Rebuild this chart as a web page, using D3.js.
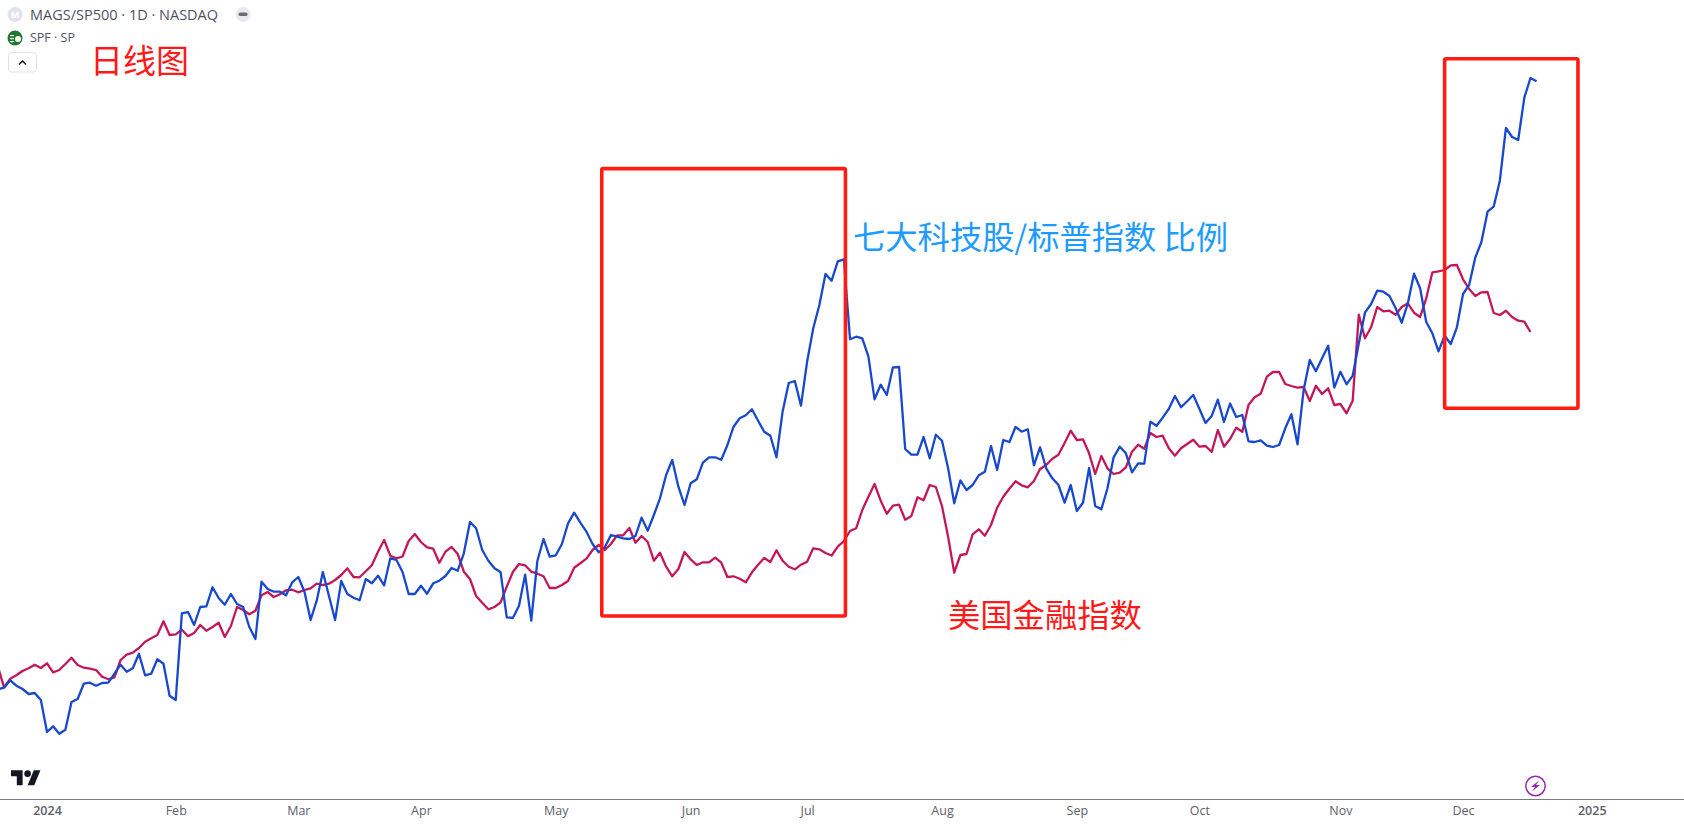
<!DOCTYPE html>
<html><head><meta charset="utf-8">
<style>html,body{margin:0;padding:0;background:#fff;overflow:hidden}svg{display:block}</style>
<script src="https://cdn.jsdelivr.net/npm/d3@7/dist/d3.min.js"></script>
</head><body><svg id="c" width="1684" height="826"></svg>
<script>
const firstBar = -8;
const tickBars = [0,21,41,61,83,105,124,146,168,188,211,231,252];
const tickLabels = ["2024","Feb","Mar","Apr","May","Jun","Jul","Aug","Sep","Oct","Nov","Dec","2025"];
const magsRatio = [110.7,112.3,119.7,114.3,111,106,107,100,68,73.7,66.3,70.3,98,101,116.3,117.3,114.3,117,117.3,126.3,135.3,128.3,131.7,146.3,124.7,126.3,140.7,136.3,104.3,100,
186.7,188,175,193,193.7,212.7,202,195.3,206,196,193,173,161,218.3,211,208.3,208.3,204.7,217.7,223,208.3,180,199.3,228,204,180,219,206,202.3,199.7,221,216.7,224.3,214.7,241.7,240,228,206,206,214.3,
206.3,216.7,219.3,224,232,229.3,246.7,278,271.7,250,239.3,231.7,227.7,182.7,182,194.3,225.3,179.3,239.3,261,243.3,244.7,256,276.7,287.3,277.3,268.3,256,247.7,252.7,265,263.3,261.7,261,264,282.3,269.3,285,301.7,325,340,313.3,295,316.7,320.7,337.3,342.7,342.7,340.3,
355,373.3,381.7,384.7,390.7,379.3,368.3,364.3,342.7,388.3,417,419,394.3,438.3,471.7,495,526,519.3,538.7,540.7,
460.7,463.3,461.7,443.3,400.7,415.3,405,432.7,433,351,345.3,345.3,363,341.7,365.3,359.3,331.7,296.7,319.7,310,315,324.7,328.3,354,330,360,358,373,368.3,370.7,334.7,352.7,331.7,321.7,315,297.3,315,289,297.3,332,294,290.7,311.7,342.7,353.3,346.7,327.7,336.7,336.3,378.3,374.3,382.3,391,404,392.7,398.7,405,391,377,384,400.3,378,
396.5,383,385,358.7,358,359.7,354.3,353,355,371.7,385.7,355.7,410,440,428.7,441.7,454.3,412.3,428.3,415.7,424.3,456.7,487.3,496,509.3,508.3,504,492,477.3,496.7,526.3,511.7,478,466.7,448.7,464.3,456,472.7,506,515,542.5,558,588.3,593.3,619,672,663,660,702.3,722,718.7];
const spfIndex = [133,112.7,121.3,124.7,129,131.7,135.3,132,136.7,127.7,130,136,142.3,135,132.3,131.3,130,123.3,120.7,122.7,140,145.3,147.3,152,158.3,161.7,165,178.7,165,165.7,170.3,163.7,167,175,169.3,173,177.3,163,174,193,190,185.7,189.3,204.7,208,203,205.7,209.7,210.3,207.7,210,211.7,216.3,215,216.3,220,225,231.7,223,222.7,228.7,234.7,248.3,260,244.3,241.7,243.5,259,266,258,
252.7,251.3,237.3,248.3,253,246,228.3,221,204,197.3,190.7,193,197.7,213.3,228,236,234.7,228.3,226.3,223.7,212,212,215,219,232.3,236.7,241.3,250,255,250,256,264.7,264.7,272,257.3,264,258,239.3,247.3,233.3,223.7,231,248,240.7,235,237.7,237.7,242.3,237.3,223,223.7,221.3,217.7,227.7,235.3,242,238,249.7,239.3,233.3,230.7,235.3,238.3,251.7,250.7,247,244.5,253.3,259,269,271.7,290,303.3,316,299.3,286.3,294.3,295.3,280.3,284,302.7,299.7,315,313,294,263.3,227.3,245,246,265.7,270.7,264.3,275,292.3,303.3,311.3,318.7,314.7,312.7,319,331,335,341.3,345.3,357,369.3,360,360.7,346.7,326,344,331.7,326,327.3,332.7,348.3,355.3,351.3,367,363,364.3,351.7,344.3,351.7,356,360.3,353.3,354,348,370,353.3,361,372.3,368.2,395,402.7,406.3,423.3,428,428,416,414,412.3,413,399,414.3,406,411.7,395,396,386.7,399.3,485.3,461.7,472.7,493,488.7,489.3,485.3,493,496.7,487.3,483,501.7,527.7,528.7,530,534.7,535,520.7,511,504,507.7,508,487,485,489.3,483,479.3,478.3,468];
const highlightBars = [[90.5,130.25],[228,249.75]];
const highlightLevels = [[184,631.4],[391.7,741.3]];

const svg = d3.select("#c");
const font = "'Open Sans','Noto Sans',sans-serif";
const x = d3.scaleLinear().domain([0,252]).range([47,47+252*6.13]);
const y = d3.scaleLinear().domain([0,800]).range([800,0]);
svg.append("defs").append("clipPath").attr("id","p").append("rect").attr("x",0).attr("y",0).attr("width",1684).attr("height",798);
const line = d3.line().x((d,i)=>x(firstBar+i)).y(d=>y(d));
const plot = svg.append("g").attr("clip-path","url(#p)");
plot.append("path").datum(spfIndex).attr("d",line).attr("fill","none").attr("stroke","#c2185b").attr("stroke-width",2.3).attr("stroke-linejoin","round");
plot.append("path").datum(magsRatio).attr("d",line).attr("fill","none").attr("stroke","#1848cc").attr("stroke-width",2.3).attr("stroke-linejoin","round");

// highlight boxes
highlightBars.forEach((b,k)=>{
  svg.append("rect").attr("x",x(b[0])).attr("width",x(b[1])-x(b[0]))
    .attr("y",y(highlightLevels[k][1])).attr("height",y(highlightLevels[k][0])-y(highlightLevels[k][1]))
    .attr("rx",1.5).attr("fill","none").attr("stroke","#ff1c12").attr("stroke-width",3.6);
});

// axis
const axis = d3.axisBottom(x).tickValues(tickBars).tickFormat((d,i)=>tickLabels[i]).tickSize(0).tickPadding(7);
const ax = svg.append("g").attr("transform","translate(0,799)").call(axis);
ax.select(".domain").remove();
svg.append("line").attr("x1",0).attr("x2",1684).attr("y1",799.5).attr("y2",799.5).attr("stroke","#787b86").attr("stroke-width",1.2);
ax.selectAll("text").attr("font-family",font).attr("font-size",12.5).attr("fill","#5d606b")
  .attr("font-weight",(d,i)=>/^\d/.test(tickLabels[i])?600:400);

// annotations
const cjk = "'Noto Sans CJK SC',sans-serif";
const note=(t,xx,yy,c,fs)=>svg.append("text").attr("x",xx).attr("y",yy).attr("font-family",cjk).attr("font-size",fs).attr("fill",c).text(t);
note("日线图",90,72.5,"#ff1a1a",33);
note("七大科技股/标普指数 比例",853,249,"#1e9bff",32.3);
note("美国金融指数",948,627,"#ff1a1a",32.3);

// header legend
svg.append("circle").attr("cx",15).attr("cy",14.5).attr("r",7.5).attr("fill","#e0e3eb");
svg.append("text").attr("x",15).attr("y",18).attr("text-anchor","middle").attr("font-family",font).attr("font-size",9).attr("fill","#fff").attr("font-weight",700).text("M");
svg.append("text").attr("x",30).attr("y",19.5).attr("font-family",font).attr("font-size",14.5).attr("fill","#4f525e").text("MAGS/SP500 · 1D · NASDAQ");
svg.append("circle").attr("cx",243).attr("cy",14.5).attr("r",7.5).attr("fill","#e9ebf0");
svg.append("rect").attr("x",238.5).attr("y",12.5).attr("width",9).attr("height",3.5).attr("rx",1.5).attr("fill","#6a6d78");
svg.append("circle").attr("cx",15).attr("cy",38).attr("r",7.5).attr("fill","#1f7a2e");
svg.append("circle").attr("cx",18).attr("cy",39).attr("r",3).attr("fill","#fff");
svg.append("rect").attr("x",10).attr("y",35).attr("width",4).attr("height",1.2).attr("fill","#fff");
svg.append("rect").attr("x",10).attr("y",38).attr("width",4).attr("height",1.2).attr("fill","#fff");
svg.append("rect").attr("x",10).attr("y",41).attr("width",4).attr("height",1.2).attr("fill","#fff");
svg.append("text").attr("x",30).attr("y",42).attr("font-family",font).attr("font-size",12.5).attr("fill","#4f525e").text("SPF · SP");
svg.append("rect").attr("x",8.5).attr("y",52.5).attr("width",28).attr("height",19.5).attr("rx",3).attr("fill","#fff").attr("stroke","#e0e3eb");
svg.append("path").attr("d","M19 64.5 L22.5 61 L26 64.5").attr("fill","none").attr("stroke","#131722").attr("stroke-width",1.5);

// logo
const logo = svg.append("g").attr("transform","translate(11,767) scale(0.83)").attr("fill","#131722");
logo.append("path").attr("d","M14 22H7V11H0V4h14v18zM28 22h-8l7.5-18h8L28 22z");
logo.append("circle").attr("cx",20).attr("cy",8).attr("r",4);

// bolt
svg.append("circle").attr("cx",1535.5).attr("cy",786).attr("r",9.7).attr("fill","#fff").attr("stroke","#9c27b0").attr("stroke-width",1.5);
svg.append("path").attr("d","M1539 780.5 L1531 787 L1535 787 L1532 791.5 L1540 785 L1536 785 Z").attr("fill","#9c27b0");
</script></body></html>
